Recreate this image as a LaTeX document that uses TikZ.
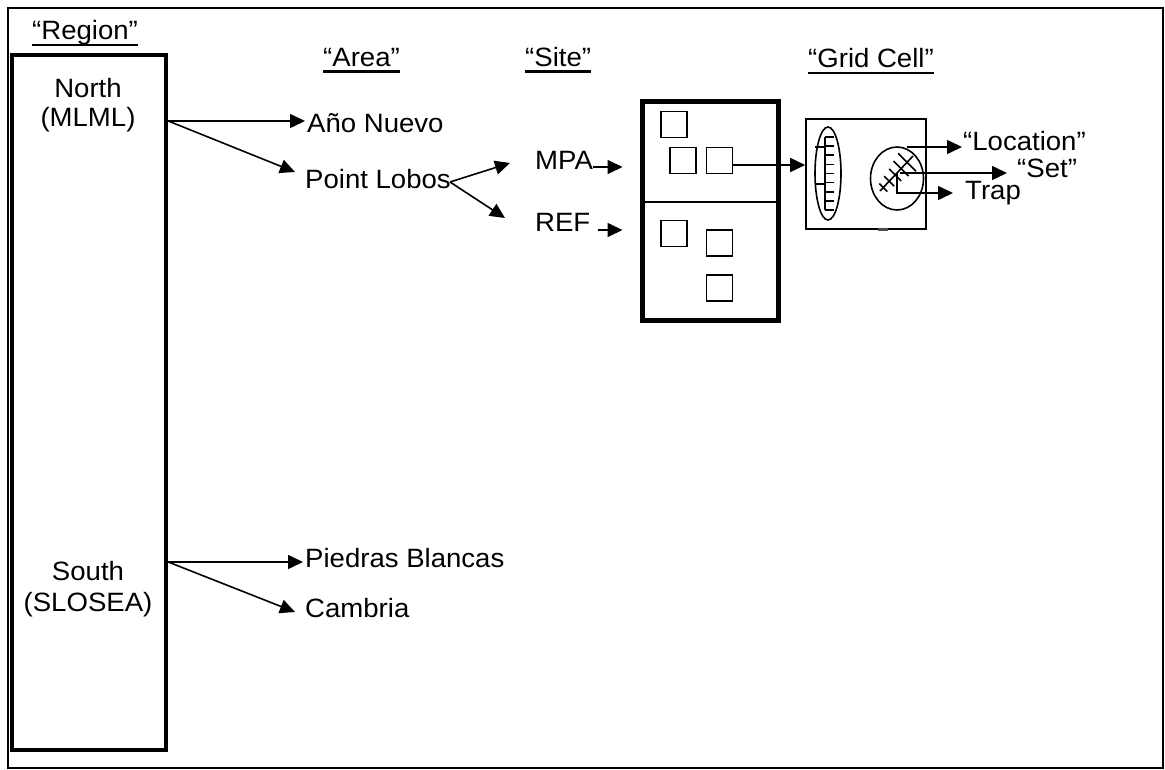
\documentclass[tikz,border=0pt]{standalone}
\usepackage{fontspec}
\setmainfont{Liberation Sans}[FakeStretch=1.04]
\usetikzlibrary{arrows.meta,positioning,calc}

\newcommand\tierhead[1]{\setbox0=\hbox{#1}\rlap{\rule[-6.2pt]{\wd0}{2.5pt}}\box0}

\begin{document}
\begin{tikzpicture}[x=1pt, y=-1pt,
  every node/.style={font=\fontsize{26.5}{29}\selectfont},
  lbl/.style={inner sep=0pt, anchor=base west},
  arr/.style={-{Triangle[length=15pt,width=14pt]}, line width=1.6pt},
  cell/.style={draw, line width=1.7pt, minimum size=26pt, inner sep=0pt},
  thin/.style={line width=1.6pt}
]
\useasboundingbox (0,0) rectangle (1165,770);
\draw[line width=2.5pt] (8,8) rectangle (1163,768);

% region column
\node[draw, line width=4.5pt, minimum width=154pt, minimum height=695pt, inner sep=0pt] (region) at (89,402.5) {};
\node[lbl] (regionhd) at (32,40) {\tierhead{“Region”}};
\node[align=center, inner sep=0pt, anchor=north] (north) at (88,78.5) {North\\(MLML)};
\node[align=center, inner sep=0pt, anchor=north] (south) at (88,561) {South\\[2.5pt](SLOSEA)};

% tier headings
\node[lbl] (areahd) at (323,66.7) {\tierhead{“Area”}};
\node[lbl] (sitehd) at (525,66.7) {\tierhead{“Site”}};
\node[lbl] (gridhd) at (808,68) {\tierhead{“Grid Cell”}};

% areas
\node[lbl] (anuevo) at (307,132.7) {Año Nuevo};
\node[lbl] (plobos) at (305,188.3) {Point Lobos};
\node[lbl] (pblancas) at (305,567.5) {Piedras Blancas};
\node[lbl] (cambria) at (305,617.3) {Cambria};

% sites
\node[lbl] (mpa) at (535,170) {MPA};
\node[lbl] (refsite) at (535,231.5) {REF};

% site block with cells
\node[draw, line width=5pt, minimum width=136pt, minimum height=218pt, inner sep=0pt] (site) at (710,211) {};
\draw[line width=1.8pt] (site.west |- 0,202) -- (site.east |- 0,202);
\foreach \n/\x/\y in {1/674/124.5, 2/683/160.5, 3/719.5/160.5,
                      4/674/233.5, 5/719.5/243, 6/719.5/288}
  \node[cell] (sq\n) at (\x,\y) {};

% grid cell
\node[draw, thin, minimum width=120pt, minimum height=110pt, inner sep=0pt] (gridcell) at (866,174) {};
\draw[line width=2.8pt, black!70] ($(gridcell.south)+(12,0)$) -- ($(gridcell.south)+(22,0)$);
\draw[thin] (828,173.5) ellipse [x radius=13pt, y radius=46.5pt];
\draw[thin] (825,137) -- (825,210);
\foreach \i in {0,...,8}
  \draw[thin] (825,137+9.125*\i) -- (834,137+9.125*\i);
\draw[thin] (815,147) -- (825,147) (815,184) -- (825,184);
\coordinate (trapc) at (897,178.5);
\draw[thin] (trapc) ellipse [x radius=26.5pt, y radius=31.5pt];
\draw[thin] (880,191) -- (913,156);
\foreach \t/\a in {0.1/4, 0.28/5, 0.46/6, 0.64/7.5, 0.82/9}
  \draw[thin] ({880+33*\t-\a},{191-35*\t-\a}) -- ({880+33*\t+\a},{191-35*\t+\a});

% grid cell parts
\node[lbl] (location) at (963,150.5) {“Location”};
\node[lbl] (setlbl) at (1017,178) {“Set”};
\node[lbl] (trap) at (965,200) {Trap};

% connectors
\coordinate (nsplit) at (region.east |- 0,121);
\coordinate (ssplit) at (region.east |- 0,562);
\coordinate (lsplit) at (450,182);
\coordinate (mpaout) at ($(mpa.base east)+(0,-3)$);
\coordinate (refout) at ($(refsite.base east)+(7,-1.5)$);
\coordinate (cellout) at ($(sq3.east)+(0,4.5)$);
\coordinate (locstart) at (907,147);
\coordinate (setstart) at (900,173);
\coordinate (trapstart) at (897,173);

\draw[arr] (nsplit) -- ($(anuevo.base west)+(-2,-11.7)$);
\draw[arr] (nsplit) -- ($(plobos.base west)+(-10,-16.3)$);
\draw[arr] (ssplit) -- ($(pblancas.base west)+(-2,-5.5)$);
\draw[arr] (ssplit) -- ($(cambria.base west)+(-10,-5.3)$);
\draw[arr] (lsplit) -- ($(mpa.base west)+(-25,-7)$);
\draw[arr] (lsplit) -- ($(refsite.base west)+(-30,-13.5)$);
\draw[arr] (mpaout) -- ($(mpaout -| site.west)+(-17,0)$);
\draw[arr] (refout) -- ($(refout -| site.west)+(-17,0)$);
\draw[arr] (cellout) -- (cellout -| gridcell.west);
\draw[arr] (locstart) -- ($(location.base west)+(-1,-3.5)$);
\draw[arr] (setstart) -- ($(setlbl.base west)+(-10,-5)$);
\draw[arr] (trapstart) |- ($(trap.base west)+(-12,-7)$);
\end{tikzpicture}
\end{document}
